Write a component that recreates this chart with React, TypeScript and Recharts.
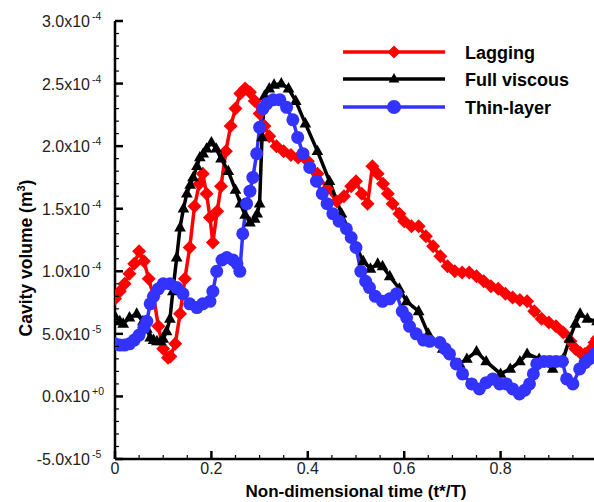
import React from 'react';
import { LineChart, Line, XAxis, YAxis } from 'recharts';

// time t*/T and cavity volume, volume values in units of 1e-5 m^3
const lagT = [0, 0.01, 0.02, 0.03, 0.04, 0.05, 0.06, 0.07, 0.08, 0.09, 0.1, 0.11, 0.115, 0.125, 0.135, 0.145, 0.155, 0.165, 0.175, 0.182, 0.19, 0.197, 0.203, 0.212, 0.22, 0.23, 0.24, 0.25, 0.26, 0.27, 0.28, 0.29, 0.3, 0.31, 0.32, 0.335, 0.35, 0.365, 0.38, 0.4, 0.42, 0.44, 0.46, 0.475, 0.49, 0.5, 0.512, 0.524, 0.534, 0.545, 0.556, 0.566, 0.576, 0.59, 0.6, 0.615, 0.63, 0.645, 0.66, 0.675, 0.69, 0.705, 0.72, 0.735, 0.75, 0.765, 0.78, 0.795, 0.81, 0.825, 0.84, 0.855, 0.87, 0.885, 0.9, 0.915, 0.93, 0.945, 0.955, 0.965, 0.975, 0.985, 0.995, 1.0];
const lagV = [7.8, 8.4, 9.0, 9.8, 10.6, 11.6, 10.8, 9.4, 8.0, 5.6, 3.8, 3.1, 3.2, 4.2, 6.6, 9.4, 11.9, 15.2, 17.0, 17.8, 16.2, 14.3, 12.3, 14.8, 16.8, 19.6, 21.6, 23.0, 24.2, 24.6, 24.3, 23.6, 22.6, 21.6, 20.8, 20.0, 19.6, 19.3, 19.1, 18.8, 17.8, 16.6, 15.6, 16.0, 16.8, 17.2, 16.2, 15.4, 18.4, 17.8, 17.0, 16.2, 15.4, 14.6, 14.0, 13.6, 13.6, 12.8, 12.0, 11.2, 10.4, 10.0, 9.9, 9.9, 9.6, 9.2, 8.8, 8.6, 8.2, 7.9, 7.7, 7.6, 6.8, 6.2, 5.9, 5.6, 5.1, 4.4, 3.8, 3.5, 3.4, 3.7, 4.3, 4.6];

const fullT = [0, 0.01, 0.017, 0.03, 0.045, 0.058, 0.066, 0.073, 0.08, 0.087, 0.095, 0.1, 0.107, 0.114, 0.12, 0.128, 0.135, 0.142, 0.149, 0.156, 0.162, 0.17, 0.176, 0.183, 0.19, 0.2, 0.21, 0.22, 0.235, 0.25, 0.26, 0.27, 0.28, 0.29, 0.295, 0.3, 0.305, 0.31, 0.32, 0.33, 0.345, 0.36, 0.375, 0.395, 0.42, 0.445, 0.47, 0.49, 0.515, 0.53, 0.545, 0.555, 0.57, 0.59, 0.605, 0.63, 0.65, 0.68, 0.715, 0.73, 0.75, 0.77, 0.8, 0.82, 0.84, 0.855, 0.88, 0.908, 0.93, 0.943, 0.955, 0.965, 0.98, 1.0];
const fullV = [6.4, 6.0, 5.8, 6.3, 6.6, 6.0, 5.4, 4.7, 4.5, 4.4, 4.4, 4.6, 5.2, 6.2, 8.4, 11.1, 13.5, 15.0, 16.2, 16.9, 17.5, 18.4, 19.1, 19.4, 19.8, 20.3, 19.8, 19.0, 18.0, 16.5, 15.4, 14.5, 13.9, 14.2, 14.6, 15.4, 20.7, 24.0, 24.6, 24.9, 25.0, 24.6, 23.6, 21.8, 19.6, 17.2, 14.6, 12.8, 10.8, 10.2, 10.6, 10.4, 9.6, 8.6, 7.6, 6.8, 5.0, 3.8, 2.6, 3.0, 3.6, 2.8, 1.8, 2.2, 2.8, 3.4, 3.0, 2.2, 3.0, 4.6, 5.8, 6.6, 6.2, 6.0];

const thinT = [0, 0.01, 0.02, 0.03, 0.04, 0.05, 0.06, 0.066, 0.073, 0.08, 0.09, 0.1, 0.114, 0.128, 0.141, 0.155, 0.17, 0.182, 0.197, 0.203, 0.211, 0.222, 0.232, 0.245, 0.253, 0.259, 0.265, 0.273, 0.28, 0.286, 0.294, 0.3, 0.307, 0.315, 0.328, 0.342, 0.356, 0.369, 0.379, 0.39, 0.404, 0.418, 0.43, 0.44, 0.452, 0.465, 0.48, 0.49, 0.5, 0.51, 0.52, 0.528, 0.54, 0.555, 0.57, 0.584, 0.596, 0.605, 0.611, 0.625, 0.64, 0.653, 0.674, 0.685, 0.694, 0.708, 0.721, 0.74, 0.756, 0.77, 0.784, 0.798, 0.812, 0.825, 0.839, 0.85, 0.86, 0.868, 0.875, 0.89, 0.902, 0.915, 0.928, 0.937, 0.95, 0.964, 0.975, 0.984, 0.995];
const thinV = [4.2, 4.1, 4.1, 4.2, 4.5, 4.9, 5.5, 6.0, 7.4, 8.0, 8.6, 9.0, 9.0, 8.7, 8.2, 7.4, 7.1, 7.4, 7.6, 8.4, 10.0, 10.9, 11.1, 10.9, 10.6, 10.0, 13.0, 15.4, 16.4, 17.5, 19.4, 21.5, 23.0, 23.4, 23.7, 23.7, 23.1, 22.1, 20.7, 19.4, 18.3, 17.2, 16.2, 15.4, 14.6, 14.0, 13.4, 12.7, 11.9, 10.0, 9.2, 8.7, 8.0, 7.6, 7.8, 8.2, 6.8, 6.3, 5.6, 5.0, 4.5, 4.4, 4.3, 3.8, 3.4, 2.6, 1.8, 1.0, 0.6, 1.1, 1.4, 1.0, 1.0, 0.6, 0.2, 0.5, 1.0, 1.8, 2.6, 2.8, 2.8, 2.8, 2.8, 1.4, 1.0, 2.2, 2.7, 3.0, 3.4];

const seriesNames = ['Lagging', 'Full viscous', 'Thin-layer'];
// the label at 1.0 falls outside the visible frame
const xTickLabels = ['0', '0.2', '0.4', '0.6', '0.8'];
const yTickMantissa = ['-5.0', '0.0', '5.0', '1.0', '1.5', '2.0', '2.5', '3.0'];
const yTickExponent = ['-5', '+0', '-5', '-4', '-4', '-4', '-4', '-4'];

const UNIT = 1e-5;
const W = 620;
const H = 502;
const LEFT = 115;
const TOP = 21;
const BOTTOM = 459;
const FONT = '"Liberation Sans", Arial, Helvetica, sans-serif';

const toRows = (t: number[], v: number[]) => t.map((x, i) => ({ t: x, v: v[i] * UNIT }));
const lagData = toRows(lagT, lagV);
const fullData = toRows(fullT, fullV);
const thinData = toRows(thinT, thinV);

// tick marks: majors every 0.2 / 5e-5, minors every 0.05 / 1e-5
const xTicks = Array.from({ length: 21 }, (_, i) => i * 0.05);
const yTicks = Array.from({ length: 36 }, (_, i) => (i - 5) * UNIT);

const Diamond = ({ cx, cy, s = 7, color = '#ff0000' }: any) => (
  <polygon points={`${cx},${cy - s} ${cx + s},${cy} ${cx},${cy + s} ${cx - s},${cy}`} fill={color} />
);
const Triangle = ({ cx, cy, s = 6.5, color = '#000' }: any) => (
  <polygon points={`${cx},${cy - s} ${cx + s * 0.9},${cy + s * 0.6} ${cx - s * 0.9},${cy + s * 0.6}`} fill={color} />
);
const Circle = ({ cx, cy, r = 6.5, color = '#3333ff' }: any) => <circle cx={cx} cy={cy} r={r} fill={color} />;

function XTick(props: any) {
  const { x, payload } = props;
  const idx = Math.round(payload.value / 0.05);
  const major = idx % 4 === 0;
  const label = major ? xTickLabels[idx / 4] : undefined;
  return (
    <g>
      <line x1={x} x2={x} y1={BOTTOM} y2={BOTTOM - (major ? 8 : 4)} stroke="#000" strokeWidth={major ? 2.5 : 1.2} />
      {label !== undefined && (
        <text x={x} y={474} textAnchor="middle" fontSize={16} fontFamily={FONT} fill="#222">
          {label}
        </text>
      )}
    </g>
  );
}

function YTick(props: any) {
  const { y, payload } = props;
  const idx = Math.round(payload.value / UNIT) + 5;
  const major = idx % 5 === 0;
  const k = idx / 5;
  return (
    <g>
      <line x1={LEFT} x2={LEFT + (major ? 8 : 4)} y1={y} y2={y} stroke="#000" strokeWidth={major ? 2.5 : 1.2} />
      {major && (
        <>
          <text x={90} y={y + 6} textAnchor="end" fontSize={16} fontFamily={FONT} fill="#222">
            {yTickMantissa[k] + 'x10'}
          </text>
          <text x={92} y={y - 1} fontSize={10.5} fontFamily={FONT} fill="#222">
            {yTickExponent[k]}
          </text>
        </>
      )}
    </g>
  );
}

const legendRows = [
  { y: 52, color: '#ff0000', mark: (cx: number, cy: number) => <Diamond cx={cx} cy={cy} s={6.5} /> },
  { y: 79, color: '#000000', mark: (cx: number, cy: number) => <Triangle cx={cx} cy={cy} s={6} /> },
  { y: 107, color: '#3333ff', mark: (cx: number, cy: number) => <Circle cx={cx} cy={cy} r={7} /> },
];

export default function App() {
  return (
    <div style={{ position: 'fixed', left: 0, top: 0, width: 594, height: 502, overflow: 'hidden', background: '#fff' }}>
      <LineChart width={W} height={H} margin={{ top: TOP, right: W - 597, bottom: 3, left: 15 }}>
        <XAxis
          dataKey="t"
          type="number"
          domain={[0, 1]}
          ticks={xTicks}
          interval={0}
          tickLine={false}
          axisLine={{ stroke: '#000', strokeWidth: 2.5 }}
          tick={(p: any) => <XTick {...p} />}
          height={40}
          allowDataOverflow
        />
        <YAxis
          type="number"
          domain={[-5 * UNIT, 30 * UNIT]}
          ticks={yTicks}
          interval={0}
          tickLine={false}
          axisLine={{ stroke: '#000', strokeWidth: 2.5 }}
          tick={(p: any) => <YTick {...p} />}
          width={100}
          allowDataOverflow
        />
        <Line
          data={lagData}
          dataKey="v"
          name={seriesNames[0]}
          type="linear"
          stroke="#ff0000"
          strokeWidth={3.5}
          dot={(p: any) => <Diamond key={p.index} cx={p.cx} cy={p.cy} />}
          isAnimationActive={false}
        />
        <Line
          data={fullData}
          dataKey="v"
          name={seriesNames[1]}
          type="linear"
          stroke="#000000"
          strokeWidth={3.5}
          dot={(p: any) => <Triangle key={p.index} cx={p.cx} cy={p.cy} />}
          isAnimationActive={false}
        />
        <Line
          data={thinData}
          dataKey="v"
          name={seriesNames[2]}
          type="linear"
          stroke="#3333ff"
          strokeWidth={3.5}
          dot={(p: any) => <Circle key={p.index} cx={p.cx} cy={p.cy} />}
          isAnimationActive={false}
        />
      </LineChart>

      {/* legend and axis titles */}
      <svg width={594} height={502} style={{ position: 'absolute', left: 0, top: 0, pointerEvents: 'none' }}>
        {legendRows.map((r, i) => (
          <g key={seriesNames[i]}>
            <line x1={343} x2={445} y1={r.y} y2={r.y} stroke={r.color} strokeWidth={3.5} />
            {r.mark(394, r.y)}
            <text x={465} y={r.y + 6.5} fontSize={18} fontWeight="bold" fontFamily={FONT} fill="#000">
              {seriesNames[i]}
            </text>
          </g>
        ))}
        <text x={356} y={497} textAnchor="middle" fontSize={17} fontWeight="bold" fontFamily={FONT} fill="#000">
          Non-dimensional time (t*/T)
        </text>
        <text
          transform="translate(32,258) rotate(-90)"
          textAnchor="middle"
          fontSize={17.5}
          fontWeight="bold"
          fontFamily={FONT}
          fill="#000"
        >
          Cavity volume (m<tspan dy={-7} fontSize={11}>3</tspan><tspan dy={7}>)</tspan>
        </text>
      </svg>
    </div>
  );
}
